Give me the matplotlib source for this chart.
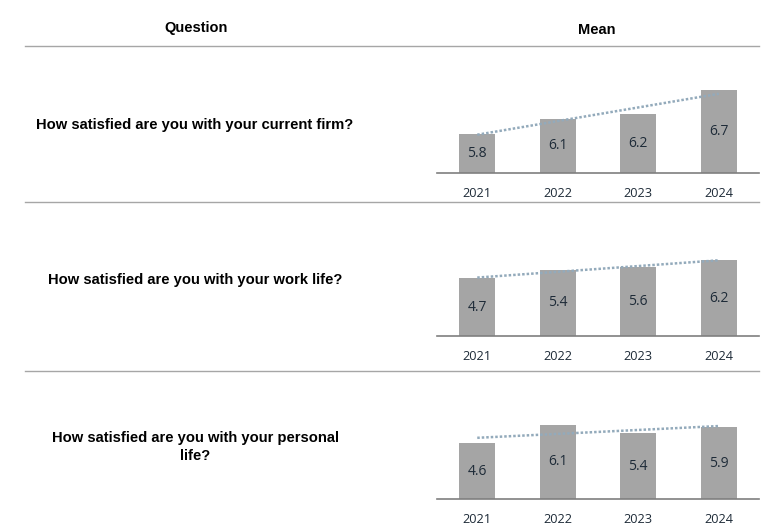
import numpy as np
import matplotlib
matplotlib.use("Agg")
import matplotlib.pyplot as plt

# ---- data ----
questions = [
    "How satisfied are you with your current firm?",
    "How satisfied are you with your work life?",
    "How satisfied are you with your personal\nlife?",
]
years = ["2021", "2022", "2023", "2024"]
firm_means = [5.8, 6.1, 6.2, 6.7]
work_life_means = [4.7, 5.4, 5.6, 6.2]
personal_life_means = [4.6, 6.1, 5.4, 5.9]
series = [firm_means, work_life_means, personal_life_means]

# ---- layout (pixels, top-left origin) ----
W, H = 781, 530
fig = plt.figure(figsize=(W / 100, H / 100), dpi=100)
fig.patch.set_facecolor("white")

def fx(x):
    return x / W

def fy(y):
    return 1 - y / H

HEAD_FONT = "Liberation Sans"
BAR_COLOR = "#a5a5a5"
TREND_COLOR = "#93aabb"
TEXT_COLOR = "#1e2b38"
RULE_COLOR = "#a6a6a6"

# header
fig.text(fx(196), fy(28), "Question", ha="center", va="center",
         fontsize=10.5, fontweight="bold", family=HEAD_FONT, color="black")
fig.text(fx(597), fy(30), "Mean", ha="center", va="center",
         fontsize=10.5, fontweight="bold", family=HEAD_FONT, color="black")

# horizontal rules
for yy in [46, 202, 371]:
    fig.add_artist(plt.Line2D([fx(25), fx(759)], [fy(yy), fy(yy)],
                              color=RULE_COLOR, lw=1.0))

# panels: baseline y, top y, ymin, pixels per unit, question y
panels = [
    dict(base=172.7, top=60, ymin=5.0, ppu=48.7, qy=125),
    dict(base=336.0, top=215, ymin=0.0, ppu=12.25, qy=280),
    dict(base=499.3, top=385, ymin=0.0, ppu=12.25, qy=447),
]

ax_left, ax_right = 437, 759
x = np.arange(len(years))

for q, vals, p in zip(questions, series, panels):
    hpx = p["base"] - p["top"]
    ax = fig.add_axes([fx(ax_left), fy(p["base"]), (ax_right - ax_left) / W, hpx / H])
    ax.set_xlim(-0.5, len(years) - 0.5)
    ax.set_ylim(p["ymin"], p["ymin"] + hpx / p["ppu"])
    ax.bar(x, vals, width=0.45, color=BAR_COLOR, bottom=0, zorder=2)
    # linear trendline
    k, b = np.polyfit(x, vals, 1)
    ax.plot([x[0], x[-1]], [b, b + k * x[-1]], color=TREND_COLOR, lw=1.8,
            ls=(0, (1, 0.8)), zorder=3)
    for xi, v in zip(x, vals):
        ax.text(xi, (p["ymin"] + v) / 2, f"{v:.1f}", ha="center", va="center",
                fontsize=10, family="Open Sans", color=TEXT_COLOR, zorder=4)
    for s in ["top", "right", "left"]:
        ax.spines[s].set_visible(False)
    ax.spines["bottom"].set_color("#7f7f7f")
    ax.spines["bottom"].set_linewidth(1.2)
    ax.set_yticks([])
    ax.set_xticks(x)
    ax.set_xticklabels(years, fontsize=9.2, family="Open Sans", color=TEXT_COLOR)
    ax.tick_params(axis="x", length=0, pad=10)
    ax.patch.set_alpha(0)

    fig.text(fx(195), fy(p["qy"]), q, ha="center", va="center",
             fontsize=10.6, fontweight="bold", family=HEAD_FONT, color="black",
             linespacing=1.3)

fig.savefig("out.png", dpi=100, facecolor="white")
